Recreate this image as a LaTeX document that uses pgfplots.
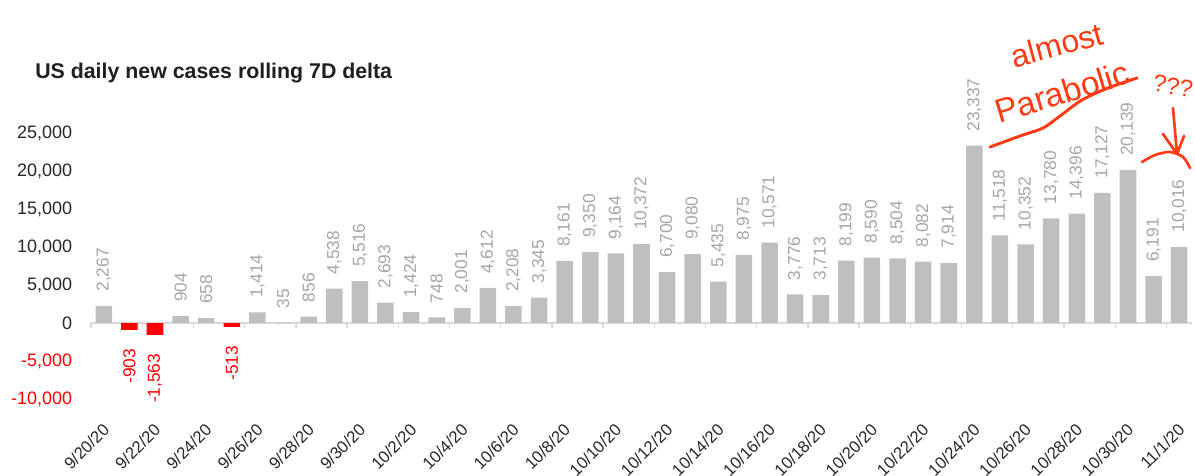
\documentclass[border=0pt]{standalone}
\usepackage{pgfplots}
\pgfplotsset{compat=1.18}
\usepackage{pgfplotstable}
\usepackage{fontspec}
\setmainfont{Liberation Sans}
\usetikzlibrary{arrows.meta}
\definecolor{barg}{HTML}{BFBFBF}
\definecolor{labg}{HTML}{A6A6A6}
\definecolor{axg}{HTML}{D9D9D9}
\definecolor{pen}{HTML}{FF3A14}
\definecolor{tickc}{HTML}{262626}

\pgfplotstableread{
x y
0 2267
3 904
4 658
6 1414
7 35
8 856
9 4538
10 5516
11 2693
12 1424
13 748
14 2001
15 4612
16 2208
17 3345
18 8161
19 9350
20 9164
21 10372
22 6700
23 9080
24 5435
25 8975
26 10571
27 3776
28 3713
29 8199
30 8590
31 8504
32 8082
33 7914
34 23337
35 11518
36 10352
37 13780
38 14396
39 17127
40 20139
41 6191
42 10016
}\posdata

\pgfplotstableread{
x y
1 -903
2 -1563
5 -513
}\negdata

\begin{document}
\begin{tikzpicture}
\path[use as bounding box] (0,0) rectangle (896.25pt,-356.25pt);
\node[anchor=west, font=\bfseries\fontsize{16}{18}\selectfont, text=black!88, inner sep=0pt] at (26.25pt,-54.75pt) {US daily new cases rolling 7D delta};
\begin{axis}[
  at={(68.25pt,-299.25pt)}, anchor=south west,
  scale only axis, width=825.75pt, height=199.5pt,
  xmin=-0.5, xmax=42.5, ymin=-10000, ymax=25000,
  enlargelimits=false, clip=false,
  scaled y ticks=false,
  axis line style={draw=none}, tick style={draw=none}, major tick length=0pt,
  ytick={-10000,-5000,0,5000,10000,15000,20000,25000},
  yticklabels={{\textcolor{red}{-10,000}},{\textcolor{red}{-5,000}},0,{5,000},{10,000},{15,000},{20,000},{25,000}},
  yticklabel style={font=\fontsize{13.5}{14}\selectfont, text=tickc, inner sep=0pt, anchor=east, xshift=-14pt},
  xtick={0,2,...,42},
  xticklabels={9/20/20,9/22/20,9/24/20,9/26/20,9/28/20,9/30/20,10/2/20,10/4/20,10/6/20,10/8/20,10/10/20,10/12/20,10/14/20,10/16/20,10/18/20,10/20/20,10/22/20,10/24/20,10/26/20,10/28/20,10/30/20,11/1/20},
  xticklabel style={font=\fontsize{12.5}{13}\selectfont, text=tickc, inner sep=0pt, xshift=-1.5pt, yshift=-17.5pt, rotate=45, anchor=north east},
  /pgf/number format/1000 sep={,},
  /pgf/number format/assume math mode=true,
]
\draw[axg, line width=1pt] (axis cs:-0.5,0) -- (axis cs:42.5,0);
\pgfplotsinvokeforeach{-0.5,1.5,...,41.5}{
  \draw[axg, line width=1pt] (axis cs:#1,0) -- ++(0pt,-4pt);
}
\addplot[ybar, bar width=12.4pt, bar shift=0pt, fill=barg, draw=none,
  nodes near coords,
  every node near coord/.append style={rotate=90, anchor=west, font=\fontsize{13}{14}\selectfont, text=labg, inner xsep=10.5pt, inner ysep=0pt}]
  table[x=x,y=y]{\posdata};
\addplot[ybar, bar width=12.4pt, bar shift=0pt, fill=red, draw=none,
  nodes near coords,
  every node near coord/.append style={rotate=90, anchor=east, font=\fontsize{13}{14}\selectfont, text=red, inner xsep=14pt, inner ysep=0pt}]
  table[x=x,y=y]{\negdata};
\end{axis}
\begin{scope}[x=0.75pt,y=-0.75pt]
  \node[pen, rotate=15, font=\fontsize{24}{26}\selectfont, inner sep=0pt] at (1057,45) {almost};
  \node[pen, rotate=17, font=\fontsize{25}{27}\selectfont, inner sep=0pt] at (1062,92) {Parabolic};
  \draw[pen, line width=2.2pt, line cap=round] plot[smooth] coordinates {(990,147) (1020,136) (1043,128) (1060,116) (1082,100) (1108,88) (1137,78)};
  \node[pen, rotate=-10, font=\fontsize{18}{20}\selectfont, inner sep=0pt] at (1173,86) {???};
  \draw[pen, line width=2pt, line cap=round] (1173,108) -- (1177,154);
  \draw[pen, line width=2pt, line cap=round, line join=round] (1163,134) -- (1177,154) -- (1184,136);
  \draw[pen, line width=2pt, line cap=round] plot[smooth] coordinates {(1142,162) (1155,155) (1170,152) (1183,157) (1190,168)};
\end{scope}
\end{tikzpicture}
\end{document}
